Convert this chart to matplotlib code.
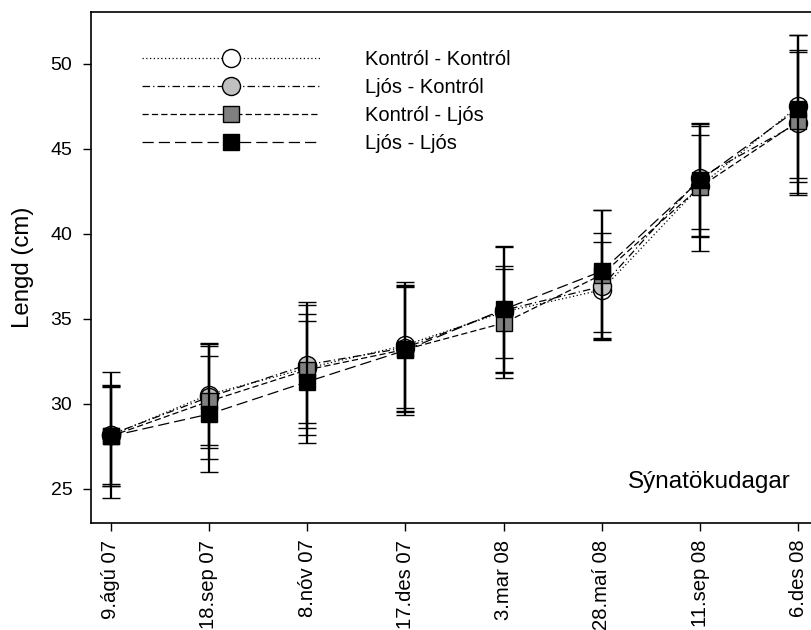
import numpy as np
import matplotlib
matplotlib.use('Agg')
import matplotlib.pyplot as plt
from matplotlib.lines import Line2D

plt.rcParams['font.family'] = ['Liberation Sans', 'DejaVu Sans']

### Sampling dates (categorical, evenly spaced).
dates = ['9.ágú 07', '18.sep 07', '8.nóv 07', '17.des 07',
         '3.mar 08', '28.maí 08', '11.sep 08', '6.des 08']

### Mean length (cm) and error (cm) for each treatment.
kk_mean = [28.15, 30.55, 32.1, 33.45, 35.4, 36.7, 42.8, 47.5]
kk_err = [3.7, 2.95, 3.2, 3.7, 2.7, 2.8, 3.0, 4.2]

lk_mean = [28.2, 30.4, 32.3, 33.3, 35.5, 36.9, 43.3, 46.5]
lk_err = [2.9, 3.0, 3.7, 3.7, 3.7, 3.15, 3.0, 4.2]

kl_mean = [28.1, 30.15, 32.0, 33.2, 34.75, 37.6, 42.75, 46.6]
kl_err = [2.95, 3.4, 3.8, 3.65, 3.2, 3.8, 3.75, 4.2]

ll_mean = [28.1, 29.4, 31.3, 33.15, 35.55, 37.8, 43.15, 47.35]
ll_err = [2.9, 3.4, 3.6, 3.8, 3.7, 3.6, 3.3, 4.3]

labels = ['Kontról - Kontról', 'Ljós - Kontról', 'Kontról - Ljós', 'Ljós - Ljós']


def draw_series(ax, x, mean, err, marker, face, ls, ms, z):
    ax.plot(x, mean, color='k', lw=0.9, ls=ls, zorder=z)
    ax.errorbar(x, mean, yerr=err, fmt='none', ecolor='k', elinewidth=1.6,
                capsize=6.5, capthick=1.0, zorder=z + 0.1)
    ax.plot(x, mean, ls='none', marker=marker, ms=ms, mfc=face, mec='k',
            mew=1.0, zorder=z + 0.2)


fig = plt.figure(figsize=(8.12, 6.30), dpi=100)
ax = fig.add_axes([0.1121, 0.1698, 0.8953, 0.8104])

x = np.arange(len(dates))

styles = [
    ('o', 'white', (0, (1, 2)), 13),
    ('o', '#c0c0c0', (0, (6, 2.5, 1, 2.5)), 13),
    ('s', '#808080', (0, (5, 2.5)), 12),
    ('s', 'black', (0, (9, 4)), 12),
]
series = [(kk_mean, kk_err), (lk_mean, lk_err), (kl_mean, kl_err), (ll_mean, ll_err)]

for i, ((mean, err), (mk, fc, ls, ms)) in enumerate(zip(series, styles)):
    draw_series(ax, x, mean, err, mk, fc, ls, ms, 2 + i)

ax.set_xlim(-0.2, 7.2)
ax.set_ylim(23, 53)
ax.set_yticks([25, 30, 35, 40, 45, 50])
ax.set_xticks(x)
ax.set_xticklabels(dates, rotation=90, fontsize=14.6)
ax.tick_params(axis='y', labelsize=14.0, length=6, width=1.0, pad=7.5)
ax.tick_params(axis='x', length=6, width=1.0, pad=6)
for s in ax.spines.values():
    s.set_linewidth(1.2)

ax.set_ylabel('Lengd (cm)', fontsize=17.3, labelpad=11.5)
ax.text(0.850, 0.080, 'Sýnatökudagar', transform=ax.transAxes,
        ha='center', va='center', fontsize=17.5)

### Legend with plain line+marker handles (no error bars).
handles = [Line2D([], [], color='k', lw=0.9, ls=ls, marker=mk, ms=ms,
                  mfc=fc, mec='k', mew=1.0)
           for (mk, fc, ls, ms) in styles]
ax.legend(handles, labels, loc='upper left', bbox_to_anchor=(0.059, 0.942),
          frameon=False, fontsize=14.5, numpoints=1, handlelength=8.85,
          handletextpad=2.23, labelspacing=0.45, borderaxespad=0)

fig.savefig('out.png', dpi=100)
